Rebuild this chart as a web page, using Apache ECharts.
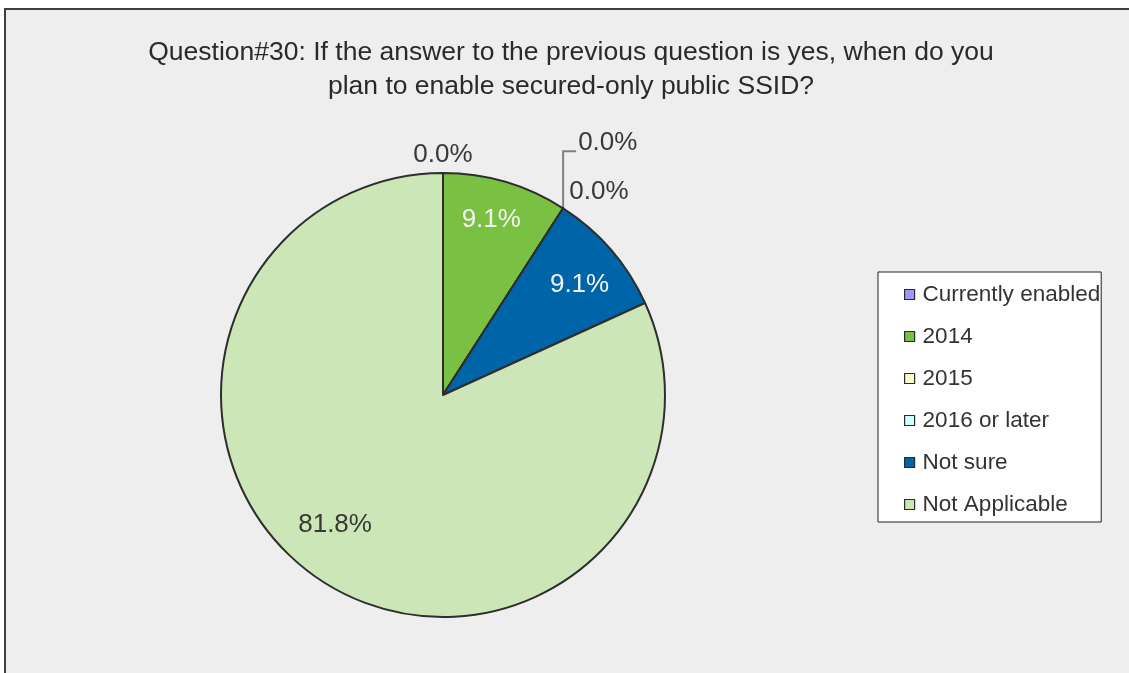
<!DOCTYPE html>
<html>
<head>
<meta charset="utf-8">
<title>Question#30</title>
<script src="https://cdn.jsdelivr.net/npm/echarts@6/dist/echarts.min.js"></script>
<style>
  html, body { margin: 0; padding: 0; background: #fff; }
  #chart { width: 1129px; height: 673px; }
</style>
</head>
<body>
<div id="chart"></div>
<script>
// categories and values (percent of respondents)
const categories = ['Currently enabled', '2014', '2015', '2016 or later', 'Not sure', 'Not Applicable']
const percents = [0.0, 9.1, 0.0, 0.0, 9.1, 81.8]
const colors = ['#9999FF', '#7AC143', '#FFFFCC', '#CCFFFF', '#0064A8', '#CCE6B8']

const FONT = "'Liberation Sans', Arial, sans-serif"
const CX = 443 // pie centre
const CY = 395
const R = 222 // pie radius

// where each label goes: radial factor, extra angle (deg)
const labelPlace = [
  { f: 1.08, da: 0 },
  { f: 0.82, da: -1 },
  { f: 1.155, da: 4.7 },
  { f: 1, da: 0 }, // leader line, handled below
  { f: 0.79, da: 2 },
  { f: 0.76, da: 7 }
]
const labelColor = ['#383838', '#f2f2f2', '#383838', '#383838', '#f2f2f2', '#383838']

const total = percents.reduce((a, b) => a + b, 0)
// angle of the middle of slice i, clockwise from 12 o'clock, radians
function midAngle (i) {
  let before = 0
  for (let k = 0; k < i; k++) before += percents[k]
  return (before + percents[i] / 2) / total * Math.PI * 2
}

const chart = echarts.init(document.getElementById('chart'))

const option = {
  backgroundColor: '#fff',
  animation: false,
  graphic: [{
    type: 'rect',
    z: -10,
    shape: { x: 5, y: 9, width: 1200, height: 720 },
    style: { fill: '#eeeeee', stroke: '#404040', lineWidth: 2 }
  }],
  title: {
    text: 'Question#30: If the answer to the previous question is yes, when do you\nplan to enable secured-only public SSID?',
    left: 571,
    top: 36,
    padding: 0,
    textAlign: 'center',
    textStyle: {
      fontFamily: FONT,
      fontSize: 26.5,
      fontWeight: 'normal',
      color: '#2a2a2a',
      lineHeight: 34
    }
  },
  legend: {
    orient: 'vertical',
    left: 878,
    top: 272,
    padding: [11, 1, 6, 26],
    backgroundColor: '#fff',
    borderColor: '#222',
    borderWidth: 1,
    borderRadius: 0,
    itemWidth: 10,
    itemHeight: 10,
    itemGap: 19,
    icon: 'rect',
    itemStyle: { borderColor: '#2a2a2a', borderWidth: 1.2 },
    textStyle: { fontFamily: FONT, fontSize: 22.5, color: '#333', padding: [0, 0, 0, 3] },
    data: categories
  },
  series: [{
    type: 'pie',
    center: [CX, CY],
    radius: R,
    startAngle: 90,
    clockwise: true,
    avoidLabelOverlap: false,
    itemStyle: { borderColor: '#2e2e2e', borderWidth: 2 },
    label: {
      show: true,
      position: 'outside',
      fontFamily: FONT,
      fontSize: 26,
      formatter: p => p.value.toFixed(1) + '%'
    },
    labelLine: { show: false, lineStyle: { color: '#808080', width: 2 } },
    emphasis: { disabled: true },
    labelLayout: function (params) {
      const i = params.dataIndex
      const a = midAngle(i)
      if (i === 3) {
        // leader line from the slice edge up and to the right
        const ex = CX + R * Math.sin(a)
        const ey = CY - R * Math.cos(a)
        return {
          x: ex + 15,
          y: ey - 65,
          align: 'left',
          verticalAlign: 'middle',
          labelLinePoints: [[ex, ey], [ex, ey - 57], [ex + 13, ey - 57]]
        }
      }
      const p = labelPlace[i]
      const b = a + p.da * Math.PI / 180
      return {
        x: CX + R * p.f * Math.sin(b),
        y: CY - R * p.f * Math.cos(b),
        align: 'center',
        verticalAlign: 'middle'
      }
    },
    data: categories.map((name, i) => ({
      name: name,
      value: percents[i],
      itemStyle: { color: colors[i] },
      label: { color: labelColor[i] },
      labelLine: { show: i === 3 }
    }))
  }]
}

chart.setOption(option)
</script>
</body>
</html>
